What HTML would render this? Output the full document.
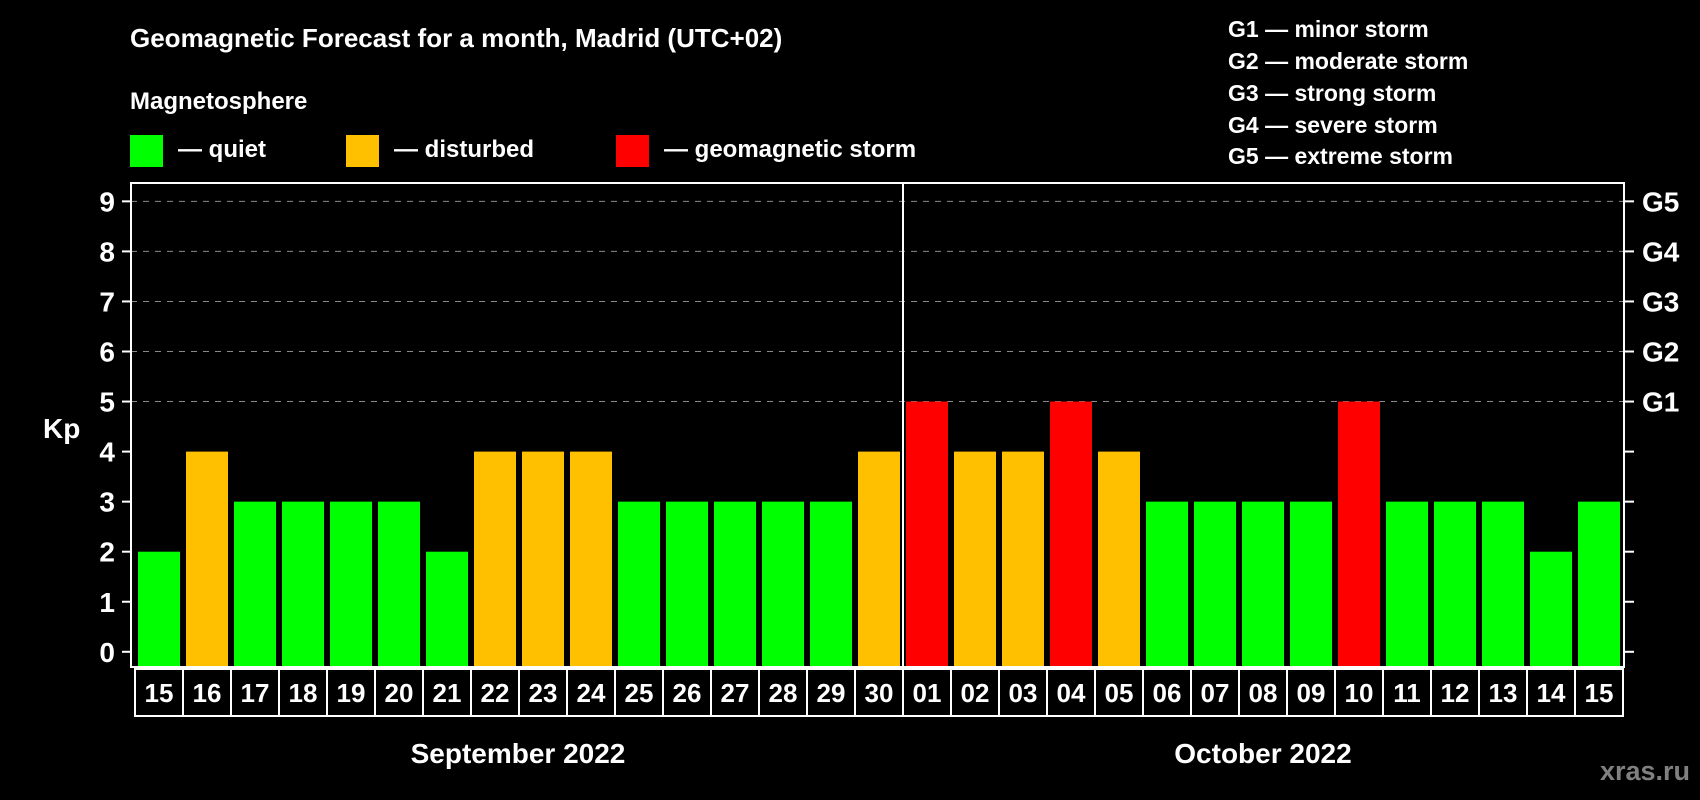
<!DOCTYPE html>
<html><head><meta charset="utf-8"><style>
html,body{margin:0;padding:0;background:#000;}
svg{display:block;font-family:"Liberation Sans",Arial,sans-serif;font-weight:bold;}
</style></head><body>
<svg id="chart" width="1700" height="800" viewBox="0 0 1700 800" xmlns="http://www.w3.org/2000/svg">
<rect width="1700" height="800" fill="#000"/>
<text x="130" y="47" fill="#fff" font-size="26">Geomagnetic Forecast for a month, Madrid (UTC+02)</text>
<text x="130" y="109" fill="#fff" font-size="24">Magnetosphere</text>
<g><rect x="130" y="135" width="33" height="32" fill="#00ff00"/><text x="178" y="157" fill="#fff" font-size="24">— quiet</text></g>
<g><rect x="346" y="135" width="33" height="32" fill="#ffc000"/><text x="394" y="157" fill="#fff" font-size="24">— disturbed</text></g>
<g><rect x="616" y="135" width="33" height="32" fill="#ff0000"/><text x="664" y="157" fill="#fff" font-size="24">— geomagnetic storm</text></g>
<g fill="#fff" font-size="23">
<text x="1228" y="37">G1 — minor storm</text>
<text x="1228" y="69">G2 — moderate storm</text>
<text x="1228" y="101">G3 — strong storm</text>
<text x="1228" y="133">G4 — severe storm</text>
<text x="1228" y="164">G5 — extreme storm</text>
</g>
<text x="43" y="438" fill="#fff" font-size="28">Kp</text>
<g id="grid"></g><g id="bars"></g><g id="axes"></g><g id="dates"></g>
<text x="518" y="763" fill="#fff" font-size="28" text-anchor="middle">September 2022</text>
<text x="1263" y="763" fill="#fff" font-size="28" text-anchor="middle">October 2022</text>
<text x="1690" y="780" fill="#808080" font-size="27" text-anchor="end">xras.ru</text>
</svg>
<script>
const days = ["15","16","17","18","19","20","21","22","23","24","25","26","27","28","29","30","01","02","03","04","05","06","07","08","09","10","11","12","13","14","15"];
const kpValues = [2,4,3,3,3,3,2,4,4,4,3,3,3,3,3,4,5,4,4,5,4,3,3,3,3,5,3,3,3,2,3];
const yTicks = [0,1,2,3,4,5,6,7,8,9];
const gLabels = ["","","","","","G1","G2","G3","G4","G5"];
const NS="http://www.w3.org/2000/svg";
const plotL=131,plotR=1624,plotT=183,plotB=667;
function y(v){return 651.8-v*50.05;}
function xStart(i){return 138+i*48;}
function color(v){return v>=5?"#ff0000":(v>=4?"#ffc000":"#00ff00");}
function mk(tag,attrs,parent){const e=document.createElementNS(NS,tag);for(const k in attrs)e.setAttribute(k,attrs[k]);parent.appendChild(e);return e;}
const grid=document.getElementById("grid"),bars=document.getElementById("bars"),axes=document.getElementById("axes"),dates=document.getElementById("dates");
yTicks.forEach((t,i)=>{
  if(t>=5){const g=mk("line",{x1:plotL,x2:plotR,y1:y(t),y2:y(t),stroke:"#8a8a8a","stroke-width":1,"stroke-dasharray":"6 6"},grid);
  
  }
  const tl=mk("line",{x1:122,x2:plotL,y1:y(t),y2:y(t),stroke:"#fff","stroke-width":2},axes);
  
  
  const tr=mk("line",{x1:plotR,x2:1634,y1:y(t),y2:y(t),stroke:"#fff","stroke-width":2},axes);
  
  
  const lb=mk("text",{x:115,y:y(t)+10,fill:"#fff","font-size":28,"text-anchor":"end"},axes);
  lb.textContent=t;
  
  
  if(gLabels[i]){const gl=mk("text",{x:1642,y:y(t)+10,fill:"#fff","font-size":28},axes);
  gl.textContent=gLabels[i];
  
  }
});
kpValues.forEach((v,i)=>{
  const b=mk("rect",{x:xStart(i),y:y(v),width:42,height:y(0)-y(v)+15,fill:color(v)},bars);
  
  
  const c=mk("rect",{x:xStart(i)-3,y:669,width:48,height:47,fill:"none",stroke:"#fff","stroke-width":2},dates);
  
  
  const t=mk("text",{x:xStart(i)+21,y:702,fill:"#fff","font-size":26,"text-anchor":"middle"},dates);
  t.textContent=days[i];
  
  
});
const fr=mk("rect",{x:plotL,y:plotT,width:plotR-plotL,height:plotB-plotT,fill:"none",stroke:"#fff","stroke-width":2},axes);


const dv=mk("line",{x1:903,x2:903,y1:plotT,y2:plotB,stroke:"#fff","stroke-width":2},axes);


</script>
</body></html>
